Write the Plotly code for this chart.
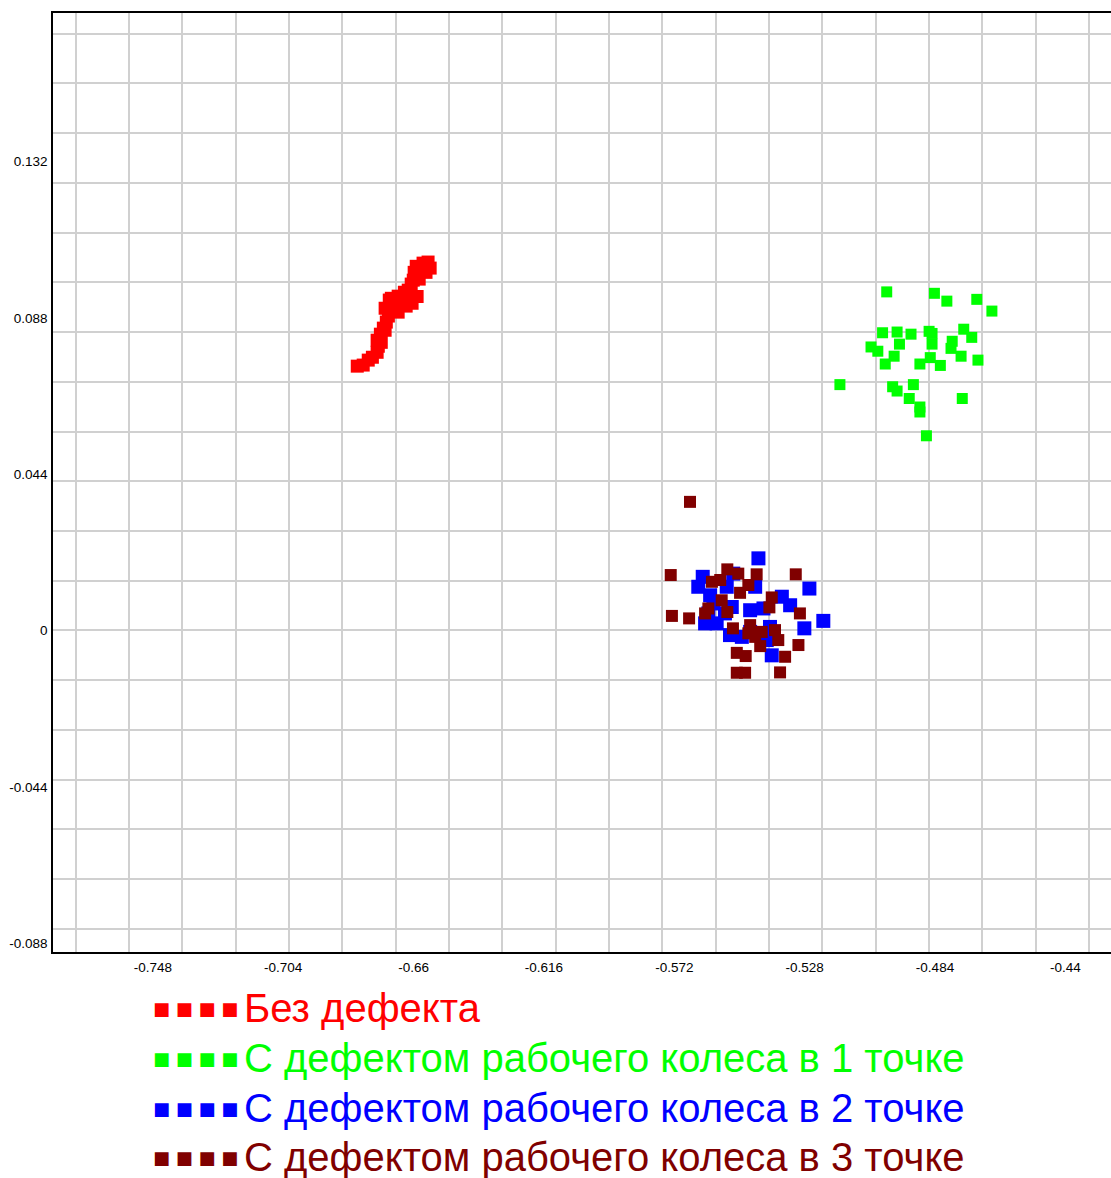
import plotly.graph_objects as go

# ---------------- data ----------------
red_x = [-0.6790, -0.6770, -0.6753, -0.6739, -0.6723, -0.6719, -0.6723, -0.6712, -0.6702, -0.6692,
         -0.6685, -0.6679, -0.6675, -0.6675, -0.6662, -0.6652, -0.6642, -0.6631, -0.6625, -0.6618,
         -0.6611, -0.6608, -0.6601, -0.6598, -0.6588, -0.6591, -0.6578, -0.6568, -0.6551, -0.6544,
         -0.6558, -0.6581, -0.6635, -0.6652, -0.6696, -0.6709, -0.6588, -0.6605, -0.6682, -0.6696]
red_y = [0.0744, 0.0747, 0.0761, 0.0769, 0.0783, 0.0800, 0.0817, 0.0834, 0.0851, 0.0868,
         0.0885, 0.0902, 0.0918, 0.0935, 0.0930, 0.0941, 0.0932, 0.0952, 0.0913, 0.0958,
         0.0941, 0.0975, 0.0986, 0.1008, 0.1000, 0.1025, 0.1020, 0.1034, 0.1037, 0.1020,
         0.1008, 0.0989, 0.0916, 0.0896, 0.0845, 0.0811, 0.0940, 0.0921, 0.0930, 0.0907]

green_x = [-0.5003, -0.4842, -0.4800, -0.4699, -0.4648, -0.5017, -0.4968, -0.4921, -0.4860, -0.4850,
           -0.4850, -0.4743, -0.4716, -0.4782, -0.4786, -0.5056, -0.5033, -0.4960, -0.4978, -0.5008,
           -0.4891, -0.4856, -0.4822, -0.4752, -0.4695, -0.5161, -0.4983, -0.4968, -0.4913, -0.4927,
           -0.4891, -0.4891, -0.4748, -0.4869]
green_y = [0.0953, 0.0949, 0.0927, 0.0932, 0.0899, 0.0838, 0.0840, 0.0834, 0.0842, 0.0836,
           0.0806, 0.0848, 0.0825, 0.0814, 0.0794, 0.0798, 0.0786, 0.0806, 0.0772, 0.0750,
           0.0750, 0.0768, 0.0746, 0.0772, 0.0761, 0.0692, 0.0686, 0.0674, 0.0692, 0.0653,
           0.0629, 0.0615, 0.0653, 0.0548]

blue_x = [-0.5436, -0.5624, -0.5639, -0.5599, -0.5543, -0.5521, -0.5447, -0.5357, -0.5329, -0.5264,
          -0.5217, -0.5281, -0.5464, -0.5419, -0.5526, -0.5605, -0.5616, -0.5577, -0.5532, -0.5492,
          -0.5430, -0.5397, -0.5391, -0.5464, -0.5549, -0.5588, -0.5408]
blue_y = [0.0203, 0.0151, 0.0123, 0.0099, 0.0123, 0.0160, 0.0123, 0.0095, 0.0071, 0.0118,
          0.0027, 0.0006, 0.0057, 0.0062, 0.0066, 0.0048, 0.0020, 0.0020, -0.0013, -0.0018,
          -0.0008, 0.0010, -0.0070, -0.0004, 0.0048, 0.0076, -0.0027]

brown_x = [-0.5667, -0.5732, -0.5728, -0.5670, -0.5541, -0.5504, -0.5442, -0.5310, -0.5593, -0.5565,
           -0.5470, -0.5498, -0.5391, -0.5399, -0.5560, -0.5605, -0.5616, -0.5541, -0.5296, -0.5464,
           -0.5522, -0.5470, -0.5425, -0.5380, -0.5369, -0.5301, -0.5430, -0.5509, -0.5479, -0.5346,
           -0.5509, -0.5481, -0.5363, -0.5447]
brown_y = [0.0362, 0.0156, 0.0041, 0.0034, 0.0172, 0.0160, 0.0158, 0.0158, 0.0137, 0.0142,
           0.0128, 0.0106, 0.0093, 0.0065, 0.0085, 0.0062, 0.0048, 0.0052, 0.0048, 0.0015,
           0.0006, -0.0008, -0.0004, 0.0001, -0.0027, -0.0041, -0.0044, -0.0063, -0.0072, -0.0074,
           -0.0119, -0.0119, -0.0118, -0.0018]

series_names = ["Без дефекта",
                "С дефектом рабочего колеса в 1 точке",
                "С дефектом рабочего колеса в 2 точке",
                "С дефектом рабочего колеса в 3 точке"]

x_tick_vals = [-0.748, -0.704, -0.66, -0.616, -0.572, -0.528, -0.484, -0.44]
x_tick_text = ["-0.748", "-0.704", "-0.66", "-0.616", "-0.572", "-0.528", "-0.484", "-0.44"]
y_tick_vals = [-0.088, -0.044, 0, 0.044, 0.088, 0.132]
y_tick_text = ["-0.088", "-0.044", "0", "0.044", "0.088", "0.132"]

# ---------------- styling ----------------
colors = ["#ff0000", "#00ff00", "#0000ff", "#800000"]
sizes = [13, 11, 14, 12]
x_range = [-0.7817, -0.4246]
y_range = [-0.0905, 0.1738]
x_grid_step = 0.018
y_grid_step = 0.014
grid_color = "#d0d0d0"

W, H = 1111, 1178
ML, MR, MT, MB = 53, 0, 13, 226

x_grid = [round(k * x_grid_step, 3) for k in range(-43, -23)]
y_grid = [round(k * y_grid_step, 3) for k in range(-6, 13) if k != 0]

fig = go.Figure()
for xs, ys, name, c, s in zip([red_x, green_x, blue_x, brown_x],
                              [red_y, green_y, blue_y, brown_y],
                              series_names, colors, sizes):
    fig.add_trace(go.Scatter(x=xs, y=ys, mode="markers", name=name, showlegend=False,
                             marker=dict(symbol="square", size=s, color=c, line=dict(width=0))))

tick_font = dict(family="Liberation Sans, Arial, sans-serif", size=13.5, color="#000000")

fig.update_xaxes(range=x_range, tickmode="array", tickvals=x_tick_vals, ticktext=x_tick_text,
                 showgrid=False, zeroline=False, ticks="", tickfont=tick_font, ticklabelstandoff=2,
                 showline=True, linecolor="#000000", linewidth=1.5, mirror=True,
                 minor=dict(tickmode="array", tickvals=x_grid, showgrid=True,
                            gridcolor=grid_color, gridwidth=1.5, ticks=""))
fig.update_yaxes(range=y_range, tickmode="array", tickvals=y_tick_vals, ticktext=y_tick_text,
                 showgrid=False, zeroline=True, zerolinecolor=grid_color, zerolinewidth=1.5,
                 ticks="", tickfont=tick_font, ticklabelstandoff=1,
                 showline=True, linecolor="#000000", linewidth=1.5, mirror=False,
                 minor=dict(tickmode="array", tickvals=y_grid, showgrid=True,
                            gridcolor=grid_color, gridwidth=1.5, ticks=""))

# legend drawn below the plot as coloured text lines
plot_w = W - ML - MR
plot_h = H - MT - MB
legend_rows_px = [1008, 1058, 1108, 1157]
sym_right_px = 240
text_left_px = 243
for name, c, row in zip(series_names, colors, legend_rows_px):
    py = (H - MB - row) / plot_h
    fig.add_annotation(xref="paper", yref="paper", x=(sym_right_px - ML) / plot_w, y=py,
                       xanchor="right", yanchor="middle", showarrow=False,
                       text="■ ■ ■ ■", font=dict(family="DejaVu Sans", size=18, color=c))
    fig.add_annotation(xref="paper", yref="paper", x=(text_left_px - ML) / plot_w, y=py,
                       xanchor="left", yanchor="middle", showarrow=False, borderpad=0,
                       text=name, font=dict(family="Liberation Sans, Arial, sans-serif", size=40, color=c))

fig.update_layout(width=W, height=H, margin=dict(l=ML, r=MR, t=MT, b=MB, pad=0),
                  paper_bgcolor="#ffffff", plot_bgcolor="#ffffff", showlegend=False)

fig.write_html("out.html")
